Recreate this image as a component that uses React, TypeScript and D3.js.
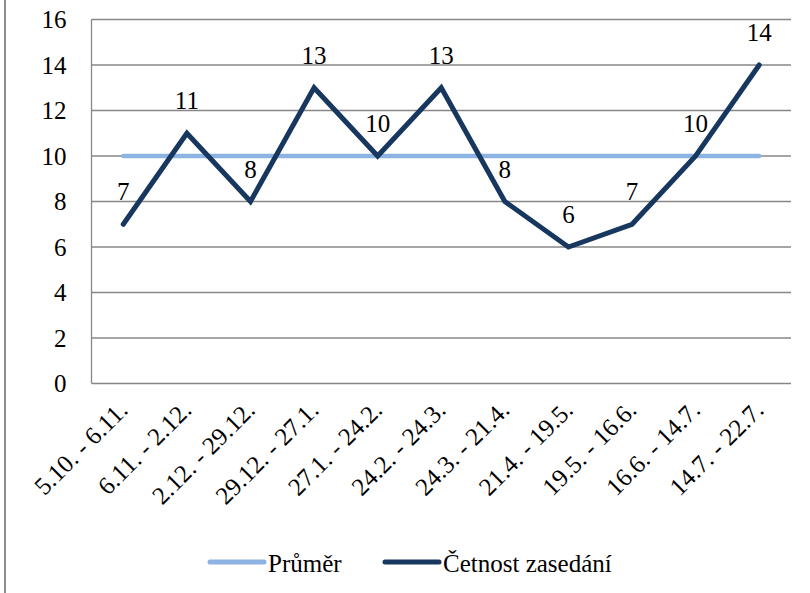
import * as d3 from "d3";

const categories = [
  "5.10. - 6.11.",
  "6.11. - 2.12.",
  "2.12. - 29.12.",
  "29.12. - 27.1.",
  "27.1. - 24.2.",
  "24.2. - 24.3.",
  "24.3. - 21.4.",
  "21.4. - 19.5.",
  "19.5. - 16.6.",
  "16.6. - 14.7.",
  "14.7. - 22.7.",
];
const frequency = [7, 11, 8, 13, 10, 13, 8, 6, 7, 10, 14];
const average = [10, 10, 10, 10, 10, 10, 10, 10, 10, 10, 10];
const yTicks = [0, 2, 4, 6, 8, 10, 12, 14, 16];
const seriesNames = ["Průměr", "Četnost zasedání"];

const width = 810;
const height = 593;
const margin = { top: 19.5, right: 19, bottom: 209.5, left: 91.5 };
const grid = "#878787";
const lightBlue = "#8db3e2";
const navy = "#17375e";
const fams = ["Liberation Serif"];

const App = () => {
  const chartWidth = width - margin.left - margin.right;
  const chartHeight = height - margin.top - margin.bottom;
  const f = fams[0];

  const xScale = d3.scalePoint<string>()
    .domain(categories)
    .range([0, chartWidth])
    .padding(0.5);

  const yScale = d3.scaleLinear()
    .domain([0, 16])
    .range([chartHeight, 0]);

  const line = d3.line<number>()
    .x((_, i) => xScale(categories[i]) || 0)
    .y(d => yScale(d));

  const legendItems = [
    { name: seriesNames[0], color: lightBlue, x: 210 },
    { name: seriesNames[1], color: navy, x: 385 },
  ];

  return (
    <svg width={width} height={height}
      style={{ display: "block", position: "absolute", left: 0, top: 0 }}>
      <rect width={width} height={height} fill="#fff" />
      {/* outer chart frame, only the left edge shows */}
      <line x1={5} x2={5} y1={0} y2={height} stroke="#8c8c8c" strokeWidth={2} />

      <g transform={`translate(${margin.left},${margin.top})`}>
        {yTicks.map(t => (
          <line key={"g" + t} x1={0} x2={chartWidth} y1={yScale(t)} y2={yScale(t)}
            stroke={grid} strokeWidth={1.3} />
        ))}
        <line x1={0} x2={0} y1={0} y2={chartHeight} stroke={grid} strokeWidth={1.3} />

        {yTicks.map(t => (
          <text key={"y" + t} x={-25} y={yScale(t)} dy="0.34em" textAnchor="end"
            style={{ fontFamily: `"${f}"`, fontSize: 25 }}>{t}</text>
        ))}

        {categories.map(c => (
          <text key={c} textAnchor="end" style={{ fontFamily: `"${f}"`, fontSize: 25 }}
            transform={`translate(${(xScale(c) || 0) + 6},${chartHeight + 28}) rotate(-45)`}>
            {c}
          </text>
        ))}

        <path d={line(average) || ""} fill="none" stroke={lightBlue} strokeWidth={4.5}
          strokeLinecap="round" />
        <path d={line(frequency) || ""} fill="none" stroke={navy} strokeWidth={5}
          strokeLinecap="round" />

        {frequency.map((v, i) => (
          <text key={"l" + i} x={xScale(categories[i]) || 0} y={yScale(v) - 24}
            textAnchor="middle" style={{ fontFamily: `"${f}"`, fontSize: 25 }}>{v}</text>
        ))}
      </g>

      <g transform="translate(0,562)">
        {legendItems.map(it => (
          <g key={it.name}>
            <line x1={it.x} x2={it.x + 54} y1={0} y2={0} stroke={it.color}
              strokeWidth={5} strokeLinecap="round" />
            <text x={it.x + 58} y={10}
              style={{ fontFamily: `"${f}"`, fontSize: 25 }}>{it.name}</text>
          </g>
        ))}
      </g>
    </svg>
  );
};

export default App;
